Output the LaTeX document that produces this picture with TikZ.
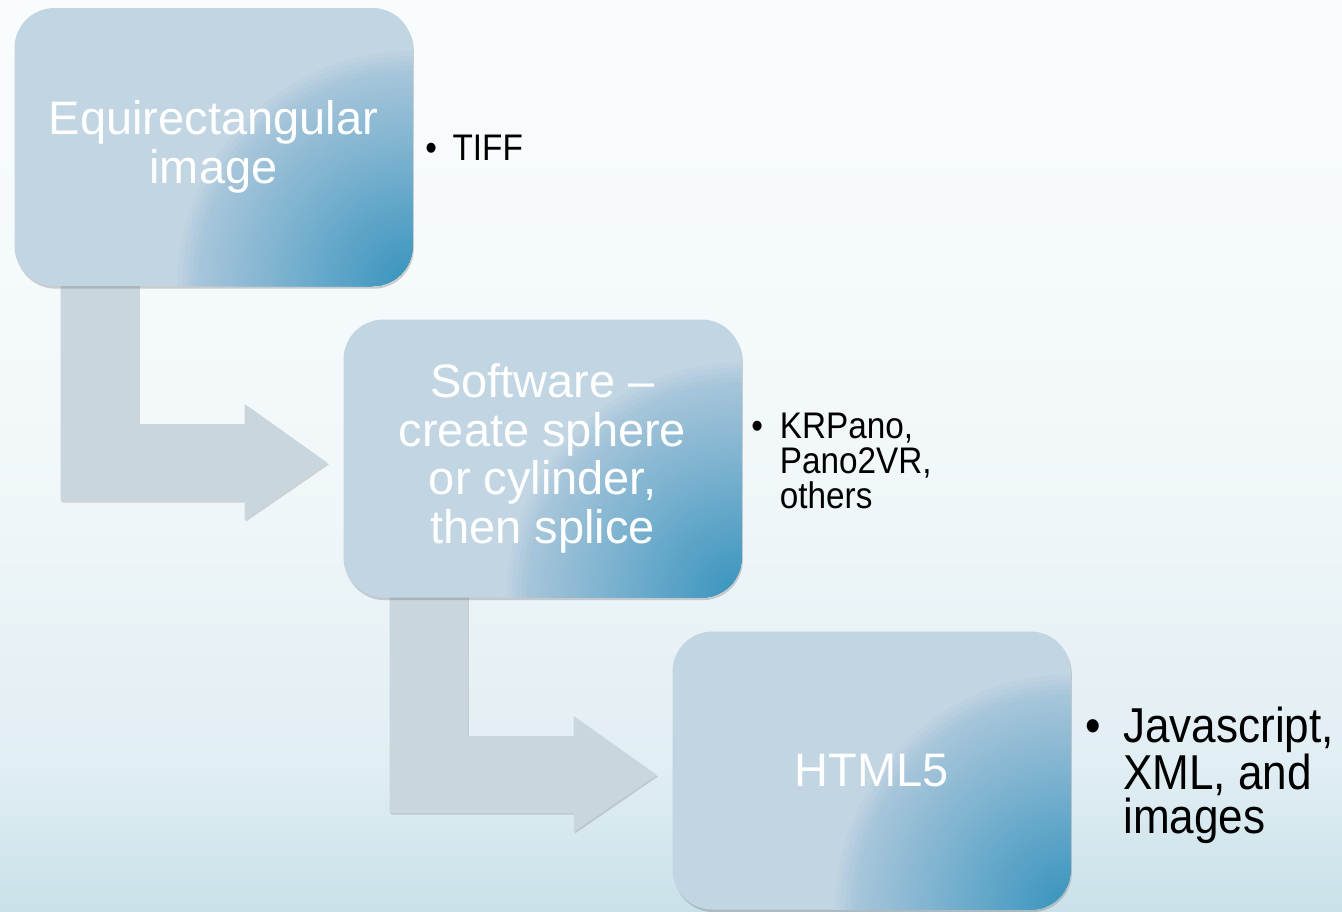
\documentclass[tikz,border=0pt]{standalone}
\usepackage{fontspec}
\setmainfont{Liberation Sans}
\newfontfamily\listfont[FakeStretch=0.9]{Liberation Sans}
\usetikzlibrary{shadows,calc}
\pgfdeclarelayer{bg}
\pgfsetlayers{bg,main}
\definecolor{boxbase}{HTML}{C2D5E2}
\definecolor{boxedge}{HTML}{A6C5DA}
\definecolor{boxdark}{HTML}{3593BD}
\definecolor{arrowfill}{HTML}{C9D6DE}
\definecolor{bgtop}{HTML}{F9FCFD}
\definecolor{bgmid}{HTML}{F2F8FA}
\definecolor{bglow}{HTML}{E1EEF3}
\definecolor{bgbot}{HTML}{C9E1E9}
\pgfdeclareverticalshading{bgshade}{100bp}{color(0bp)=(bgbot); color(25bp)=(bgbot); color(33bp)=(bglow); color(50bp)=(bgmid); color(75bp)=(bgtop); color(100bp)=(bgtop)}
\newcommand\bulletlist[3]{\parbox[t]{#2}{\hangindent=#1\hangafter=1\noindent\makebox[#1][l]{\textbullet}#3}}
\newcommand\glowrings{%
  \foreach \i in {0,...,47}{%
    \pgfmathsetmacro\ff{1-\i/48}%
    \pgfmathsetmacro\rr{180*\ff}%
    \pgfmathsetmacro\pa{min(100,max(0,(1-\ff)*1000))}%
    \pgfmathsetmacro\pb{min(100,max(0,(0.9-\ff)/0.9*100))}%
    \colorlet{ringA}{boxedge!\pa!boxbase}%
    \colorlet{ringB}{boxdark!\pb!ringA}%
    \fill[ringB] (path picture bounding box.south east) circle (\rr pt);%
  }}
\tikzset{
  stage/.style={rectangle, rounded corners=30pt, minimum width=298.5pt, minimum height=208.5pt,
    inner sep=0pt, fill=boxbase, text=white, align=center,
    font=\fontsize{35.25pt}{36.4pt}\selectfont,
    drop shadow={shadow xshift=1pt, shadow yshift=-2pt, opacity=0.3, fill=black!60},
    path picture={\glowrings}},
  larrow/.style={fill=arrowfill, drop shadow={shadow xshift=0.8pt, shadow yshift=-1.2pt, opacity=0.25, fill=black!60}},
  listS/.style={inner sep=0pt, anchor=base west, text=black, font=\listfont\fontsize{27.75pt}{26.6pt}\selectfont},
  listL/.style={inner sep=0pt, anchor=base west, text=black, font=\listfont\fontsize{36.75pt}{33pt}\selectfont}
}
\begin{document}
\begin{tikzpicture}[x=0.75pt, y=-0.75pt]
\begin{pgfonlayer}{bg}
\fill[shading=bgshade] (0,0) rectangle (1342,911);
\end{pgfonlayer}
\useasboundingbox (0,0) rectangle (1342,911);

\node[stage] (s1) at (213.5,147) {Equirectangular\\image};
\node[stage] (s2) at (542.5,458.5) {Software --\\create sphere\\or cylinder,\\then splice};
\node[stage] (s3) at (871.5,770.5) {HTML5};

\coordinate (t1) at ($(s2.west)+(-15.5,4.5)$);
\coordinate (t2) at ($(s3.west)+(-15.5,4.5)$);
\coordinate (p1) at ($(s1.south west)+(46.5,-4)$);
\coordinate (p2) at ($(s2.south west)+(46.5,-4)$);

\begin{pgfonlayer}{bg}
\fill[larrow] (p1) -- ++(78,0) |- ($(t1)+(-83,-39)$) -- ($(t1)+(-83,-59)$) -- (t1)
  -- ($(t1)+(-83,57)$) -- ($(t1)+(-83,38)$) -| (p1) -- cycle;
\fill[larrow] (p2) -- ++(78,0) |- ($(t2)+(-83,-39)$) -- ($(t2)+(-83,-59)$) -- (t2)
  -- ($(t2)+(-83,57)$) -- ($(t2)+(-83,38)$) -| (p2) -- cycle;
\end{pgfonlayer}

\node[listS] (l1) at (425,160) {\bulletlist{20.5pt}{180pt}{TIFF}};
\node[listS] (l2) at (751,438) {\bulletlist{21.5pt}{180pt}{KRPano,\newline Pano2VR,\newline others}};
\node[listL] (l3) at (1085,742) {\bulletlist{28.5pt}{190pt}{Javascript,\newline XML, and\newline images}};
\end{tikzpicture}
\end{document}
